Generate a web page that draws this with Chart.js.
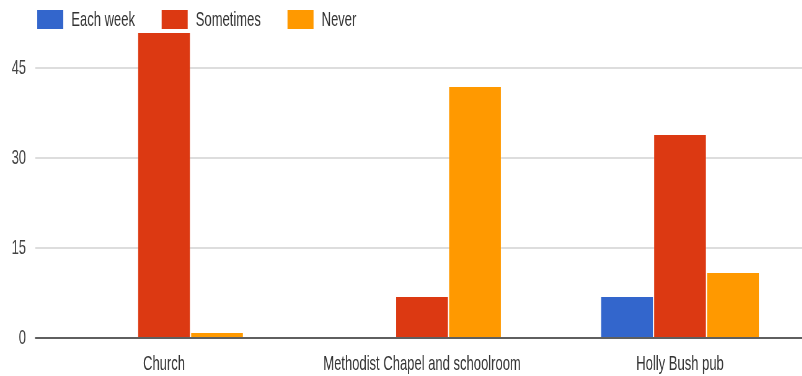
<!DOCTYPE html>
<html><head><meta charset="utf-8">
<script src="https://cdn.jsdelivr.net/npm/chart.js@4"></script>
<style>
html,body{margin:0;padding:0;background:#fff;overflow:hidden}
#wrap{width:802px;height:376px;overflow:hidden;position:relative}
canvas{display:block}
</style></head><body>
<div id="wrap"><canvas id="c" width="1305" height="376" style="width:809px;height:376px"></canvas></div>
<script>
const categories = ['Church', 'Methodist Chapel and schoolroom', 'Holly Bush pub'];
const seriesNames = ['Each week', 'Sometimes', 'Never'];
const eachWeek = [0, 0, 7];
const sometimes = [51, 7, 34];
const never = [1, 42, 11];
const yTicks = [0, 15, 30, 45];
const colors = ['#3366cc', '#dc3912', '#ff9900'];

const FONT = '"Liberation Sans", Arial, sans-serif';
const FS = 21;
Chart.defaults.font.family = FONT;
Chart.defaults.font.size = FS;
Chart.defaults.color = '#333';

const legendPlugin = {
  id: 'customLegend',
  afterDraw(chart) {
    const ctx = chart.ctx;
    ctx.save();
    ctx.font = FS + 'px ' + FONT;
    ctx.textBaseline = 'alphabetic';
    let x = 60;
    chart.data.datasets.forEach(ds => {
      ctx.fillStyle = ds.backgroundColor;
      ctx.fillRect(x, 10, 42, 19);
      x += 42 + 13;
      ctx.fillStyle = '#333';
      ctx.fillText(ds.label, x, 26);
      x += ctx.measureText(ds.label).width + 43;
    });
    ctx.restore();
  }
};

const zeroLine = {
  id: 'zeroLine',
  afterDatasetsDraw(chart) {
    const ctx = chart.ctx, a = chart.chartArea;
    const y = chart.scales.y.getPixelForValue(0);
    ctx.save();
    ctx.strokeStyle = '#5f5f5f';
    ctx.lineWidth = 2;
    ctx.beginPath();
    ctx.moveTo(a.left, y);
    ctx.lineTo(a.right, y);
    ctx.stroke();
    ctx.restore();
  }
};

const seriesData = [eachWeek, sometimes, never];

new Chart(document.getElementById('c'), {
  type: 'bar',
  data: {
    labels: categories,
    datasets: seriesNames.map((n, i) => ({
      label: n,
      data: seriesData[i],
      backgroundColor: colors[i],
      borderColor: 'rgba(255,255,255,0.35)',
      borderWidth: 1,
      categoryPercentage: 0.616,
      barPercentage: 1.0
    }))
  },
  options: {
    responsive: false,
    animation: false,
    devicePixelRatio: 1,
    layout: { padding: { top: 32, left: 0, right: 0, bottom: 0 } },
    plugins: { legend: { display: false }, tooltip: { enabled: false } },
    scales: {
      x: {
        grid: { display: false },
        border: { display: false },
        ticks: { padding: 6, color: '#333', font: { size: FS } },
        afterFit(s) { s.height = 38; }
      },
      y: {
        min: 0,
        max: 51,
        afterBuildTicks(s) { s.ticks = yTicks.map(v => ({ value: v })); },
        grid: {
          drawTicks: false,
          color: c => (c.tick && c.tick.value === 0) ? 'rgba(0,0,0,0)' : '#dddddd',
          lineWidth: 2
        },
        border: { display: false },
        ticks: { padding: 14.5, color: '#444', font: { size: FS } },
        afterFit(s) { s.width = 56.5; }
      }
    }
  },
  plugins: [legendPlugin, zeroLine]
});
</script>
</body></html>
